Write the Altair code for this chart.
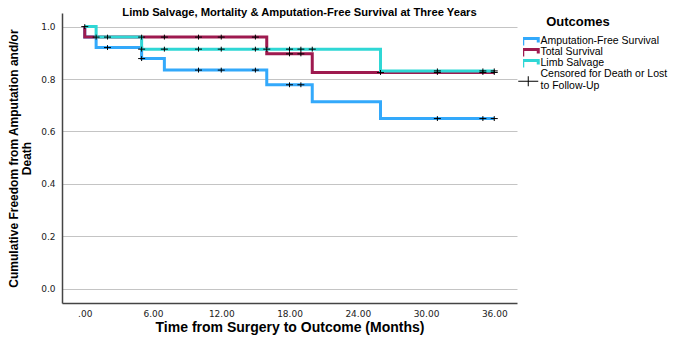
import altair as alt
import pandas as pd

# Outcome curves (Kaplan-Meier step points: months after surgery, cumulative proportion)
OUTCOMES = ["Amputation-Free Survival", "Total Survival", "Limb Salvage"]
COLORS = ["#33a9fb", "#9e1a4f", "#2fd7d5"]

afs_time = [0, 0, 1, 5, 7, 16, 20, 26, 36]
afs_surv = [1.0, 0.96, 0.92, 0.878, 0.834, 0.778, 0.713, 0.649, 0.649]

ts_time = [0, 0, 16, 20, 36]
ts_surv = [1.0, 0.96, 0.896, 0.825, 0.825]

ls_time = [0, 1, 5, 26, 36]
ls_surv = [1.0, 0.96, 0.914, 0.831, 0.831]

# Censored observations on each curve
afs_cens_time = [2, 5, 10, 12, 15, 18, 19, 31, 35, 36]
afs_cens_surv = [0.92, 0.878, 0.834, 0.834, 0.834, 0.778, 0.778, 0.649, 0.649, 0.649]

ts_cens_time = [0, 1, 2, 5, 7, 10, 12, 15, 18, 19, 26, 31, 35, 36]
ts_cens_surv = [1.0, 0.96, 0.96, 0.96, 0.96, 0.96, 0.96, 0.96, 0.896, 0.896,
                0.825, 0.825, 0.825, 0.825]

ls_cens_time = [5, 7, 10, 12, 15, 16, 18, 19, 20, 31, 35, 36]
ls_cens_surv = [0.914, 0.914, 0.914, 0.914, 0.914, 0.914, 0.914, 0.914, 0.914,
                0.831, 0.831, 0.831]

CENSOR_LABEL = "Censored for Death or Lost to Follow-Up"
LEGEND_TITLE = ["Outcomes"]

x_ticks = [0, 6, 12, 18, 24, 30, 36]
y_ticks = [0.0, 0.2, 0.4, 0.6, 0.8, 1.0]

# symbol paths: a small step for the curves, a plus for censoring
STEP_PATH = "M-5.5,1.5H-2.75V-1.25H5V0.75"
CROSS_PATH = "M-1,0H1M0,-0.7V0.7"
LEGEND_CROSS_PATH = "M-5,3.5H5M0,1V6"


def steps(name, times, surv):
    return pd.DataFrame({"outcome": name, "month": times, "surv": surv,
                         "idx": list(range(len(times)))})


curves = [
    steps(OUTCOMES[0], afs_time, afs_surv),
    steps(OUTCOMES[1], ts_time, ts_surv),
    steps(OUTCOMES[2], ls_time, ls_surv),
]

censored = pd.DataFrame({
    "censor": CENSOR_LABEL,
    "month": afs_cens_time + ts_cens_time + ls_cens_time,
    "surv": afs_cens_surv + ts_cens_surv + ls_cens_surv,
})

x_enc = alt.X(
    "month:Q",
    scale=alt.Scale(domain=[-2, 38], nice=False, zero=False),
    axis=alt.Axis(
        values=x_ticks,
        labelExpr="datum.value == 0 ? '.00' : format(datum.value, '.2f')",
        title="Time from Surgery to Outcome (Months)",
        grid=False, ticks=False, labelPadding=6, titlePadding=2,
    ),
)
y_enc = alt.Y(
    "surv:Q",
    scale=alt.Scale(domain=[-0.055, 1.052], nice=False, zero=False),
    axis=alt.Axis(
        values=y_ticks, format=".1f",
        title=["Cumulative Freedom from Amputation and/or", "Death"],
        grid=True, ticks=False, labelPadding=7, titlePadding=7,
    ),
)

legend_common = dict(
    orient="none", legendX=461, padding=0, labelOffset=7,
    labelFont="Liberation Sans", labelFontSize=10.5, labelColor="#000000",
    labelLimit=300,
)

color_enc = alt.Color(
    "outcome:N",
    scale=alt.Scale(domain=OUTCOMES, range=COLORS),
    legend=alt.Legend(
        title=None, legendY=22.5, rowPadding=0, clipHeight=11,
        symbolType=STEP_PATH, symbolSize=16, symbolStrokeWidth=3,
        symbolFillColor="transparent",
        **legend_common,
    ),
)

line_layers = [
    alt.Chart(df).mark_line(interpolate="step-after", strokeWidth=3,
                            strokeJoin="miter").encode(
        x=x_enc, y=y_enc, color=color_enc, order="idx:Q")
    for df in curves
]

points = alt.Chart(censored).mark_point(
    shape=CROSS_PATH, filled=False, color="#000000", strokeWidth=1, size=49
).encode(
    x="month:Q",
    y="surv:Q",
    opacity=alt.Opacity(
        "censor:N",
        scale=alt.Scale(type="ordinal", domain=[CENSOR_LABEL], range=[1]),
        legend=alt.Legend(
            title=None, legendY=56,
            symbolType=LEGEND_CROSS_PATH, symbolSize=16, symbolStrokeWidth=1,
            symbolStrokeColor="#000000", symbolFillColor="transparent",
            labelExpr="['Censored for Death or Lost', 'to Follow-Up']",
            **legend_common,
        ),
    ),
)

legend_heading = alt.Chart(pd.DataFrame({"t": LEGEND_TITLE})).mark_text(
    font="Liberation Sans", fontSize=13, fontWeight="bold", color="#000000",
    align="center", baseline="middle",
).encode(text="t:N", x=alt.value(516), y=alt.value(9))

chart = alt.layer(*line_layers, points, legend_heading).properties(
    width=455,
    height=290,
    autosize=alt.AutoSizeParams(type="none"),
    padding={"left": 62, "top": 13, "right": 163, "bottom": 41},
    title=alt.TitleParams(
        "Limb Salvage, Mortality & Amputation-Free Survival at Three Years",
        font="Liberation Sans", fontSize=11.2, fontWeight="bold",
        color="#000000", anchor="middle", dx=10, offset=-5,
    ),
).configure(
    style={"guide-label": {"lineHeight": 11.5}},
).configure_view(
    stroke=None
).configure_axis(
    labelFont="DejaVu Sans", labelFontSize=9, labelColor="#222222",
    titleFont="Liberation Sans", titleFontWeight="bold", titleColor="#000000",
    domainColor="#444444", domainWidth=1.5,
    gridColor="#c4c4c4", gridWidth=1,
).configure_axisX(
    titleFontSize=14,
).configure_axisY(
    titleFontSize=12, titleLineHeight=13,
)

chart.save("out.html", embed_options={"renderer": "svg", "actions": False})
